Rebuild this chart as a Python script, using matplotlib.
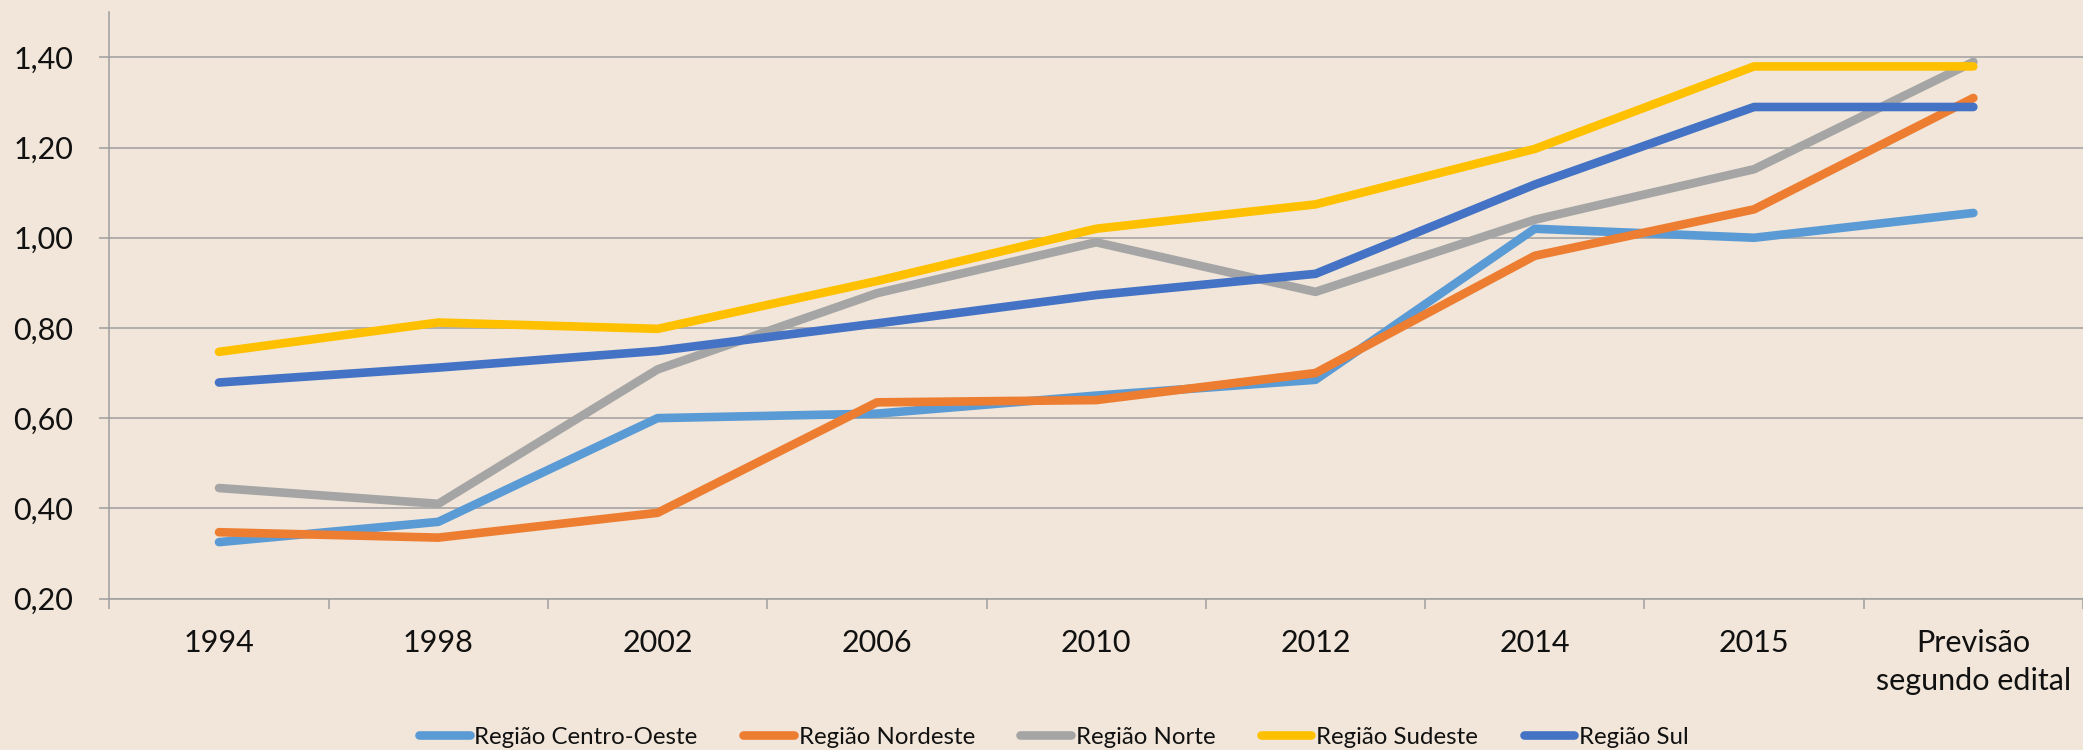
import matplotlib.pyplot as plt
from matplotlib.ticker import FixedLocator, FuncFormatter

# categorias e séries
categorias = ['1994', '1998', '2002', '2006', '2010', '2012', '2014', '2015',
              'Previsão\nsegundo edital']
centro_oeste = [0.325, 0.37, 0.60, 0.61, 0.65, 0.685, 1.02, 1.00, 1.055]
nordeste = [0.347, 0.335, 0.39, 0.635, 0.64, 0.70, 0.96, 1.063, 1.31]
norte = [0.445, 0.41, 0.708, 0.877, 0.99, 0.88, 1.04, 1.152, 1.39]
sudeste = [0.747, 0.812, 0.798, 0.904, 1.02, 1.074, 1.197, 1.38, 1.38]
sul = [0.679, 0.712, 0.749, 0.81, 0.873, 0.92, 1.118, 1.29, 1.29]

nomes = ['Região Centro-Oeste', 'Região Nordeste', 'Região Norte',
         'Região Sudeste', 'Região Sul']
cores = ['#5B9BD5', '#ED7D31', '#A5A5A5', '#FFC000', '#4472C4']
series = [centro_oeste, nordeste, norte, sudeste, sul]

fundo = '#F1E6D9'
cinza = '#9E9E9E'

fig = plt.figure(figsize=(20.83, 7.5), dpi=100, facecolor=fundo)
ax = fig.add_axes([0.0525, 0.202, 0.9475, 0.7816], facecolor=fundo)

x = list(range(len(categorias)))
for vals, nome, cor in zip(series, nomes, cores):
    ax.plot(x, vals, color=cor, linewidth=6.2, label=nome,
            solid_capstyle='round', solid_joinstyle='round')

ax.set_xlim(-0.5, 8.44)
ax.set_ylim(0.2, 1.5)

# eixo y
ax.yaxis.set_major_locator(FixedLocator([0.2, 0.4, 0.6, 0.8, 1.0, 1.2, 1.4]))
ax.yaxis.set_major_formatter(FuncFormatter(lambda v, p: f'{v:.2f}'.replace('.', ',')))
ax.grid(axis='y', color=cinza, linewidth=1.1)
ax.set_axisbelow(True)

# eixo x: rótulos no centro, marcas entre categorias
ax.set_xticks(x)
ax.set_xticklabels(categorias)
ax.set_xticks([i - 0.5 for i in range(len(categorias) + 1)], minor=True)
ax.tick_params(axis='x', which='major', length=0, pad=22)
ax.tick_params(axis='x', which='minor', length=7, width=1.1, color=cinza)
ax.tick_params(axis='y', length=7, width=1.1, color=cinza, pad=19)

for lab in ax.get_xticklabels() + ax.get_yticklabels():
    lab.set_fontfamily(['Lato', 'DejaVu Sans'])
    lab.set_fontsize(22)
    lab.set_color('#111111')
for lab in ax.get_xticklabels():
    lab.set_linespacing(1.45)

for s in ['top', 'right']:
    ax.spines[s].set_visible(False)
ax.spines['left'].set_color(cinza)
ax.spines['left'].set_linewidth(1.1)
ax.spines['bottom'].set_color(cinza)
ax.spines['bottom'].set_linewidth(1.1)

leg = fig.legend(loc='center', bbox_to_anchor=(0.506, 0.017), ncol=5,
                 frameon=False, handlelength=2.1, handletextpad=0.2,
                 columnspacing=1.9, borderpad=0.2,
                 prop={'family': ['Lato', 'DejaVu Sans'], 'size': 17.3})
for t in leg.get_texts():
    t.set_color('#111111')

fig.savefig('out.png', dpi=100, facecolor=fundo)
